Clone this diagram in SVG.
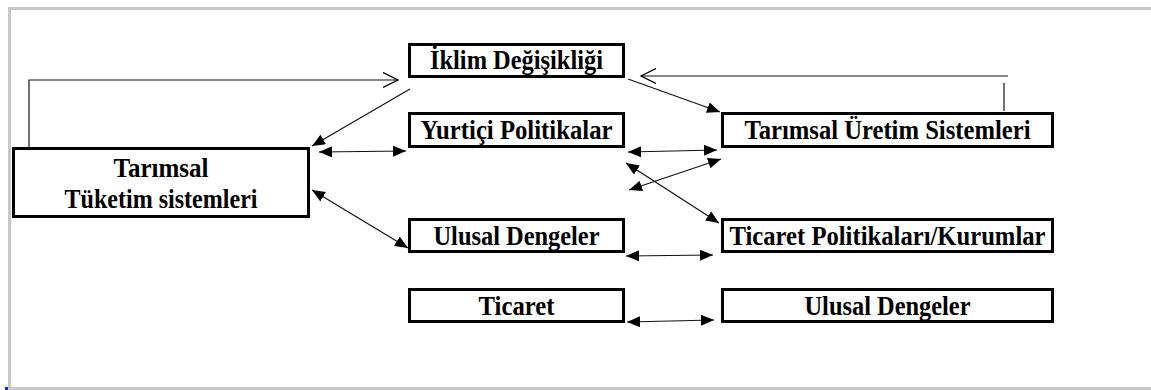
<svg xmlns="http://www.w3.org/2000/svg" width="1151" height="390" viewBox="0 0 1151 390">
<style>
.box{fill:#fff;stroke:#000;stroke-width:3}
.t{font-family:"Liberation Serif","Times New Roman",Times,"DejaVu Serif",serif;font-weight:700;font-size:26.5px;fill:#000;text-anchor:middle}
.c{fill:none;stroke:#111;stroke-width:1.2}
.dbl{marker-start:url(#fa);marker-end:url(#fa)}
.one{marker-end:url(#fa)}
.open{marker-end:url(#oa)}
</style>
<defs>
<marker id="fa" markerUnits="userSpaceOnUse" markerWidth="14" markerHeight="12" refX="13" refY="5.5" orient="auto-start-reverse">
<path d="M0,0 L13,5.5 L0,11 z" fill="#000"/>
</marker>
<marker id="oa" markerUnits="userSpaceOnUse" markerWidth="17" markerHeight="17" refX="15" refY="8" orient="auto">
<path d="M0,0.5 L15,8 L0,15.5" fill="none" stroke="#000" stroke-width="1.3"/>
</marker>
</defs>
<rect width="1151" height="390" fill="#fff"/>
<path d="M1151,8.5 H9.5 V388.5 H1151" fill="none" stroke="#c8c8c8" stroke-width="3"/>
<rect x="5" y="387" width="3" height="3" fill="#1a1aff"/>

<g id="connectors">
<path class="c open" d="M29,154 V80 H398"/>
<path class="c" d="M1004,83 V111"/>
<path class="c open" d="M1008,76 H641"/>
<path class="c one" d="M410,89 L312,146"/>
<path class="c one" d="M628,79 L720,112"/>
<path class="c dbl" d="M319,152 L406,151"/>
<path class="c dbl" d="M312,190 L408,248"/>
<path class="c dbl" d="M628,152 L717,150"/>
<path class="c dbl" d="M629,190 L721,159"/>
<path class="c dbl" d="M626,163 L719,223"/>
<path class="c dbl" d="M626,256 L713,255"/>
<path class="c dbl" d="M627,322 L714,320"/>
</g>

<g id="iklim">
<rect class="box" x="409.5" y="44.5" width="214" height="32"/>
<text class="t" x="516.5" y="69" textLength="173" lengthAdjust="spacingAndGlyphs">İklim Değişikliği</text>
</g>
<g id="yurtici">
<rect class="box" x="409.5" y="113.5" width="214" height="33"/>
<text class="t" x="516.5" y="139" textLength="192" lengthAdjust="spacingAndGlyphs">Yurtiçi Politikalar</text>
</g>
<g id="tuketim">
<rect class="box" x="13.5" y="148.5" width="295" height="68"/>
<text class="t" x="161" y="177" textLength="95" lengthAdjust="spacingAndGlyphs">Tarımsal</text>
<text class="t" x="161" y="208" textLength="193" lengthAdjust="spacingAndGlyphs">Tüketim sistemleri</text>
</g>
<g id="ulusal-sol">
<rect class="box" x="409.5" y="219.5" width="214" height="32"/>
<text class="t" x="516.5" y="244.5" textLength="166" lengthAdjust="spacingAndGlyphs">Ulusal Dengeler</text>
</g>
<g id="ticaret">
<rect class="box" x="409.5" y="289.5" width="214" height="32"/>
<text class="t" x="516.5" y="314.5" textLength="76" lengthAdjust="spacingAndGlyphs">Ticaret</text>
</g>
<g id="uretim">
<rect class="box" x="722.5" y="113.5" width="330" height="33"/>
<text class="t" x="887.5" y="139" textLength="286" lengthAdjust="spacingAndGlyphs">Tarımsal Üretim Sistemleri</text>
</g>
<g id="ticaret-pol">
<rect class="box" x="722.5" y="219.5" width="330" height="32"/>
<text class="t" x="887.5" y="244.5" textLength="316" lengthAdjust="spacingAndGlyphs">Ticaret Politikaları/Kurumlar</text>
</g>
<g id="ulusal-sag">
<rect class="box" x="722.5" y="289.5" width="330" height="32"/>
<text class="t" x="887.5" y="314.5" textLength="166" lengthAdjust="spacingAndGlyphs">Ulusal Dengeler</text>
</g>
</svg>
